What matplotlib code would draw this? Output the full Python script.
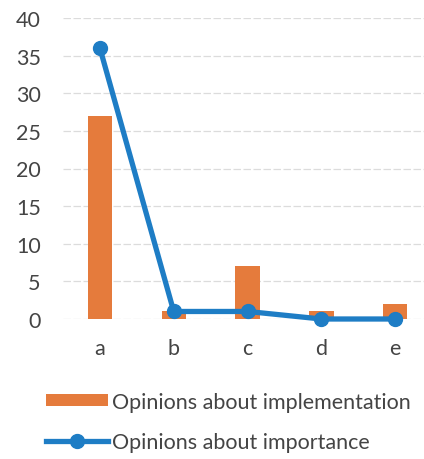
import numpy as np
import matplotlib.pyplot as plt

categories = ['a', 'b', 'c', 'd', 'e']
implementation = [27, 1, 7, 1, 2]
importance = [36, 1, 1, 0, 0]

orange = '#E57B3C'
blue = '#1E7DC5'
grey = '#444444'

plt.rcParams['font.family'] = ['Lato', 'DejaVu Sans']

fig = plt.figure(figsize=(4.24, 4.60), dpi=100)
ax = fig.add_axes([63/424, 140/460, 1 - 63/424, 301/460])

x = np.arange(len(categories))
bars = ax.bar(x, implementation, width=0.33, color=orange, zorder=2,
              label='Opinions about implementation')
line, = ax.plot(x, importance, color=blue, lw=3.8, marker='o', markersize=10,
                zorder=3, clip_on=False, label='Opinions about importance')

ax.set_xlim(-0.5, 4.39)
ax.set_ylim(0, 40)
ax.set_yticks(range(0, 41, 5))
ax.set_xticks(x)
ax.set_xticklabels(categories)
ax.yaxis.grid(True, color='#dcdcdc', lw=0.9, ls=(0, (6, 2)), zorder=0)
for s in ax.spines.values():
    s.set_visible(False)
ax.tick_params(length=0, labelsize=15.5, colors=grey, pad=16)
ax.tick_params(axis='x', pad=14)

fig.legend([bars, line], ['Opinions about implementation', 'Opinions about importance'],
           loc='lower left', bbox_to_anchor=(0.062, -0.027), frameon=False,
           fontsize=15.5, labelcolor=grey, handlelength=2.9, handleheight=0.45,
           handletextpad=0.2, labelspacing=0.95)

fig.savefig('out.png', dpi=100)
